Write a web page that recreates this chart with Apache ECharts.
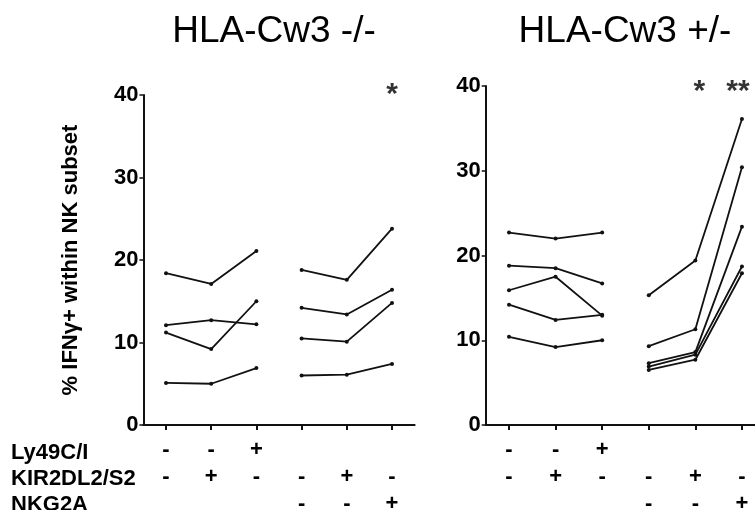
<!DOCTYPE html>
<html>
<head>
<meta charset="utf-8">
<script src="https://cdn.jsdelivr.net/npm/echarts@6/dist/echarts.min.js"></script>
<style>
  html, body { margin: 0; padding: 0; background: #fff; }
  #chart { width: 755px; height: 510px; }
</style>
</head>
<body>
<div id="chart"></div>
<script>
// marker rows shown under the x axis (one entry per column, 6 columns)
var rowNames = ["Ly49C/I", "KIR2DL2/S2", "NKG2A"];
var ly49 = ["-", "-", "+", "", "", ""];
var kir = ["-", "+", "-", "-", "+", "-"];
var nkg2a = ["", "", "", "-", "-", "+"];

// % IFNg+ per donor, three conditions per group
var leftGroup1 = [[18.4, 17.1, 21.1], [12.1, 12.7, 12.2], [11.2, 9.2, 15.0], [5.1, 5.0, 6.9]];
var leftGroup2 = [[18.8, 17.6, 23.8], [14.2, 13.4, 16.4], [10.5, 10.1, 14.8], [6.0, 6.1, 7.4]];
var rightGroup1 = [[22.7, 22.0, 22.7], [18.8, 18.5, 16.7], [15.9, 17.5, 12.9], [14.2, 12.4, 13.0], [10.4, 9.2, 10.0]];
var rightGroup2 = [[15.3, 19.4, 36.1], [9.3, 11.3, 30.4], [7.3, 8.6, 23.4], [6.9, 8.3, 18.7], [6.5, 7.7, 17.9]];

var leftStars = [[6, 40, "*"]];
var rightStars = [[5, 39.3, "*"], [6, 39.3, "**"]];

var FONT = "Liberation Sans";
var chart = echarts.init(document.getElementById("chart"));

function lineSeries(groups, startX, axisIdx) {
  var out = [];
  groups.forEach(function (vals) {
    out.push({
      type: "line",
      xAxisIndex: axisIdx,
      yAxisIndex: axisIdx,
      data: vals.map(function (v, i) { return [startX + i, v]; }),
      symbol: "circle",
      symbolSize: 4,
      lineStyle: { color: "#111", width: 1.8 },
      itemStyle: { color: "#111" },
      animation: false
    });
  });
  return out;
}

function starSeries(pts, axisIdx, offsets) {
  return {
    type: "scatter",
    xAxisIndex: axisIdx,
    yAxisIndex: axisIdx,
    symbolSize: 1,
    itemStyle: { color: "transparent" },
    data: pts.map(function (p, i) {
      return { value: p, label: { offset: [offsets[i], 0] } };
    }),
    label: {
      show: true,
      position: "inside",
      formatter: function (p) { return p.value[2]; },
      color: "#000",
      fontFamily: FONT,
      fontWeight: "bold",
      fontSize: 30
    },
    animation: false
  };
}

function colLabel(v) {
  var i = Math.round(v) - 1;
  return [ly49[i] || " ", kir[i] || " ", nkg2a[i] || " "].join("\n");
}

function xAx(idx, maxV) {
  return {
    type: "value",
    gridIndex: idx,
    min: 0.5,
    max: maxV,
    axisLine: { show: true, lineStyle: { color: "#111", width: 2 } },
    axisTick: { show: true, customValues: [1, 2, 3, 4, 5, 6], length: 5, lineStyle: { color: "#111", width: 2 } },
    axisLabel: {
      show: true,
      customValues: [1, 2, 3, 4, 5, 6],
      formatter: colLabel,
      margin: 11,
      color: "#000",
      fontFamily: FONT,
      fontWeight: "bold",
      fontSize: 22,
      lineHeight: 27
    },
    splitLine: { show: false }
  };
}

function yAx(idx, withName) {
  var ax = {
    type: "value",
    gridIndex: idx,
    min: 0,
    max: 40,
    interval: 10,
    axisLine: { show: true, lineStyle: { color: "#111", width: 2 } },
    axisTick: { show: true, length: 4, lineStyle: { color: "#111", width: 1.5 } },
    axisLabel: { color: "#000", fontFamily: FONT, fontWeight: "bold", fontSize: 22, margin: 5 },
    splitLine: { show: false }
  };
  if (withName) {
    ax.name = "% IFNγ+ within NK subset";
    ax.nameLocation = "middle";
    ax.nameRotate = 90;
    ax.nameGap = 61;
    ax.nameTextStyle = { color: "#000", fontFamily: FONT, fontWeight: "bold", fontSize: 22 };
  }
  return ax;
}

var series = []
  .concat(lineSeries(leftGroup1, 1, 0))
  .concat(lineSeries(leftGroup2, 4, 0))
  .concat(lineSeries(rightGroup1, 1, 1))
  .concat(lineSeries(rightGroup2, 4, 1));
series.push(starSeries(leftStars, 0, [0]));
series.push(starSeries(rightStars, 1, [4, -4]));

var option = {
  backgroundColor: "#fff",
  animation: false,
  title: [
    { text: "HLA-Cw3 -/-", left: 269, top: 8, textAlign: "center",
      textStyle: { fontFamily: FONT, fontWeight: "normal", fontSize: 37, color: "#000" } },
    { text: "HLA-Cw3 +/-", left: 620, top: 8, textAlign: "center",
      textStyle: { fontFamily: FONT, fontWeight: "normal", fontSize: 37, color: "#000" } }
  ],
  grid: [
    { left: 143.4, top: 95, width: 271.2, height: 330, outerBoundsMode: "none" },
    { left: 485.7, top: 86, width: 269.3, height: 339, outerBoundsMode: "none" }
  ],
  xAxis: [xAx(0, 6.5), xAx(1, 6.28)],
  yAxis: [yAx(0, true), yAx(1, false)],
  graphic: rowNames.map(function (name, i) {
    return {
      type: "text",
      left: 11,
      top: 442 + i * 26,
      style: { text: name, fill: "#000", font: "bold 22px " + FONT }
    };
  }),
  series: series
};

chart.setOption(option);
</script>
</body>
</html>
